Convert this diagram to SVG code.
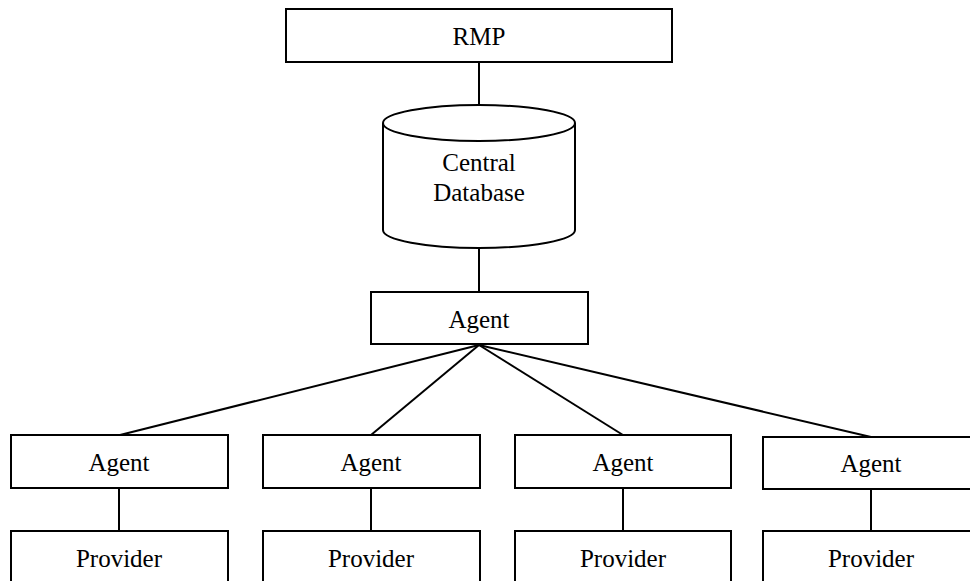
<svg xmlns="http://www.w3.org/2000/svg" width="970" height="581" viewBox="0 0 970 581">
<style>
.b{fill:#fff;stroke:#000;stroke-width:2}
.l{stroke:#000;stroke-width:2;fill:none}
text{font-family:"Liberation Serif","Times New Roman",serif;font-size:25px;fill:#000;text-anchor:middle}
</style>
<rect width="970" height="581" fill="#fff"/>
<g id="connectors">
<line class="l" x1="479" y1="62" x2="479" y2="105"/>
<line class="l" x1="479" y1="248" x2="479" y2="292"/>
<line class="l" x1="479" y1="345" x2="120" y2="435"/>
<line class="l" x1="479" y1="345" x2="371" y2="435"/>
<line class="l" x1="479" y1="345" x2="623" y2="435"/>
<line class="l" x1="479" y1="345" x2="871" y2="437"/>
<line class="l" x1="119" y1="488" x2="119" y2="531"/>
<line class="l" x1="371" y1="488" x2="371" y2="531"/>
<line class="l" x1="623" y1="488" x2="623" y2="531"/>
<line class="l" x1="871" y1="489" x2="871" y2="531"/>
</g>
<g id="rmp"><rect class="b" x="286" y="9" width="386" height="53"/><text x="479" y="45">RMP</text></g>
<g id="db">
<path class="b" d="M383,123 L383,230 A96,18 0 0 0 575,230 L575,123"/>
<ellipse class="b" cx="479" cy="123" rx="96" ry="18"/>
<text x="479" y="171">Central</text><text x="479" y="201">Database</text>
</g>
<g id="agent0"><rect class="b" x="371" y="292" width="217" height="52"/><text x="479" y="328">Agent</text></g>
<g id="agent1"><rect class="b" x="11" y="435" width="217" height="53"/><text x="119" y="471">Agent</text></g>
<g id="agent2"><rect class="b" x="263" y="435" width="217" height="53"/><text x="371" y="471">Agent</text></g>
<g id="agent3"><rect class="b" x="515" y="435" width="216" height="53"/><text x="623" y="471">Agent</text></g>
<g id="agent4"><rect class="b" x="763" y="437" width="217" height="52"/><text x="871" y="472">Agent</text></g>
<g id="provider1"><rect class="b" x="11" y="531" width="217" height="60"/><text x="119" y="567">Provider</text></g>
<g id="provider2"><rect class="b" x="263" y="531" width="217" height="60"/><text x="371" y="567">Provider</text></g>
<g id="provider3"><rect class="b" x="515" y="531" width="216" height="60"/><text x="623" y="567">Provider</text></g>
<g id="provider4"><rect class="b" x="763" y="531" width="217" height="60"/><text x="871" y="567">Provider</text></g>
</svg>
